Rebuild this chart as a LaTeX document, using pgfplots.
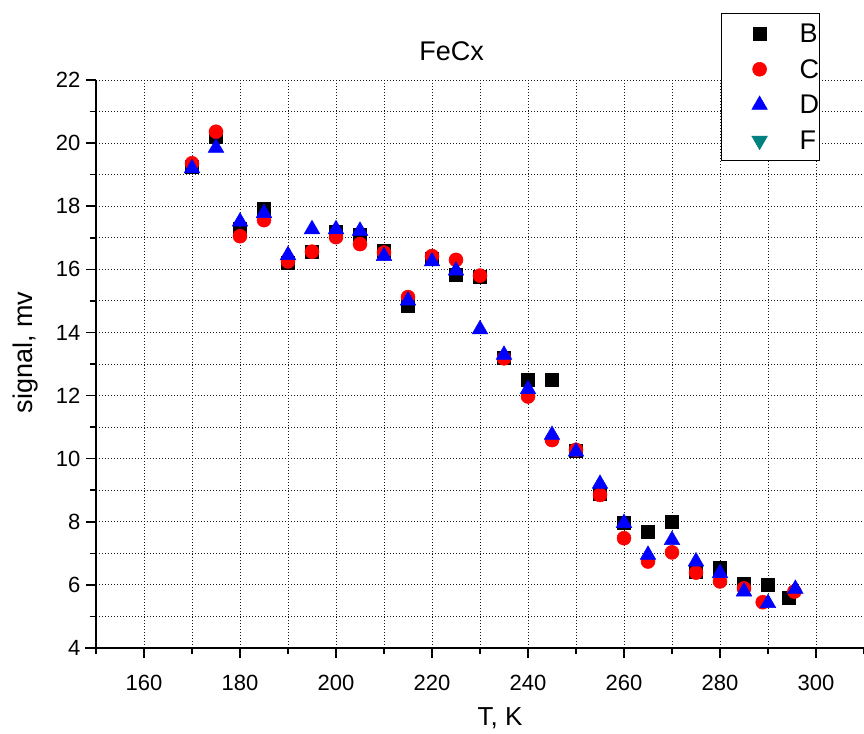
\documentclass[border=0pt]{standalone}
\usepackage{fontspec}
\setmainfont{Liberation Sans}
\usepackage{pgfplots}
\usepackage{pgfplotstable}
\pgfplotsset{compat=1.18}
\definecolor{fteal}{RGB}{0,128,128}
\pgfplotsset{mylegend/.style={legend image code/.code={\path[draw=none,fill=none] (0pt,-9pt) rectangle (60pt,9pt);\draw[##1] plot coordinates {(38pt,0pt)};}}}

\pgfplotstableread{
T y
170 19.25
175 20.2
180 17.3
185 17.93
190 16.22
195 16.55
200 17.2
205 17.1
210 16.6
215 14.86
220 16.35
225 15.82
230 15.75
235 13.2
240 12.49
245 12.49
250 10.25
255 8.9
260 7.98
265 7.69
270 7.99
275 6.42
280 6.53
285 6.05
290 6.0
294.3 5.58
}\dataB

\pgfplotstableread{
T y
170 19.36
175 20.36
180 17.05
185 17.56
190 16.25
195 16.56
200 17.02
205 16.8
210 16.53
215 15.12
220 16.42
225 16.3
230 15.8
235 13.18
240 11.97
245 10.59
250 10.28
255 8.85
260 7.48
265 6.74
270 7.03
275 6.39
280 6.11
285 5.89
288.9 5.45
295.5 5.79
}\dataC

\pgfplotstableread{
T y
170 19.2
175 19.85
180 17.51
185 17.78
190 16.45
195 17.27
200 17.27
205 17.22
210 16.42
215 15.01
220 16.25
225 15.96
230 14.1
235 13.29
240 12.2
245 10.75
250 10.22
255 9.2
260 7.96
265 6.95
270 7.42
275 6.74
280 6.37
285 5.79
290 5.42
295.7 5.87
}\dataD

\begin{document}
\begin{tikzpicture}
\begin{axis}[
  scale only axis, width=768pt, height=568pt,
  xmin=150, xmax=310, ymin=4, ymax=22,
  axis x line*=bottom, axis y line*=left,
  axis line style={line width=1.6pt, black},
  x axis line style={shorten <=-11pt},
  xtick={160,180,...,300}, minor xtick={150,170,...,310},
  ytick={4,6,...,22}, minor ytick={5,7,...,21},
  tick align=outside, major tick length=10pt, minor tick length=6pt,
  every tick/.style={black, line width=1.6pt},
  grid=both,
  major grid style={black!90, line width=0.9pt, dash pattern=on 0.9pt off 2.1pt},
  minor grid style={black!90, line width=0.9pt, dash pattern=on 0.9pt off 2.1pt},
  tick label style={font=\fontsize{22}{22}\selectfont},
  /pgf/number format/assume math mode=true,
  xticklabel style={yshift=-14pt},
  yticklabel style={xshift=-2pt},
  xlabel={T, K}, ylabel={signal, mv},
  every axis x label/.style={at={(axis description cs:0.526,-0.123)}, anchor=center, font=\fontsize{26}{26}\selectfont},
  every axis y label/.style={at={(axis description cs:-0.092,0.52)}, rotate=90, anchor=center, font=\fontsize{27}{27}\selectfont},
  title={FeCx},
  title style={at={(axis description cs:0.463,1.04)}, anchor=center, font=\fontsize{27}{27}\selectfont},
  legend cell align=left,
  legend style={at={(axis description cs:0.8138,1.118)}, anchor=north west, draw=black, line width=1.2pt, fill=white,
    inner xsep=0pt, inner ysep=11pt, row sep=17.7pt, column sep=18pt,
    nodes={inner sep=0pt, text height=18pt, text depth=0pt, font=\fontsize{27}{27}\selectfont},
    cells={anchor=west}},
]
\coordinate (bl) at (rel axis cs:0,0);
\coordinate (tr) at (rel axis cs:1,1);
\addplot[only marks, mark=square*, mark size=6.5pt, black, mark options={line width=0.5pt}, mylegend] table[x=T,y=y] {\dataB};
\addlegendentry{B\hspace{6pt}}
\addplot[only marks, mark=*, mark size=7pt, red, mark options={line width=0.5pt}, mylegend] table[x=T,y=y] {\dataC};
\addlegendentry{C\hspace{6pt}}
\addplot[only marks, mark=triangle*, mark size=9pt, blue, mark options={line width=0.5pt}, mylegend] table[x=T,y=y] {\dataD};
\addlegendentry{D\hspace{6pt}}
\addlegendimage{only marks, mark=triangle*, mark size=9pt, fteal, mark options={rotate=180, line width=0.5pt}, mylegend}
\addlegendentry{F\hspace{6pt}}
\end{axis}
\pgfresetboundingbox
\path ([shift={(-96pt,-85pt)}]bl) rectangle ([shift={(0pt,80pt)}]tr);
\end{tikzpicture}
\end{document}
